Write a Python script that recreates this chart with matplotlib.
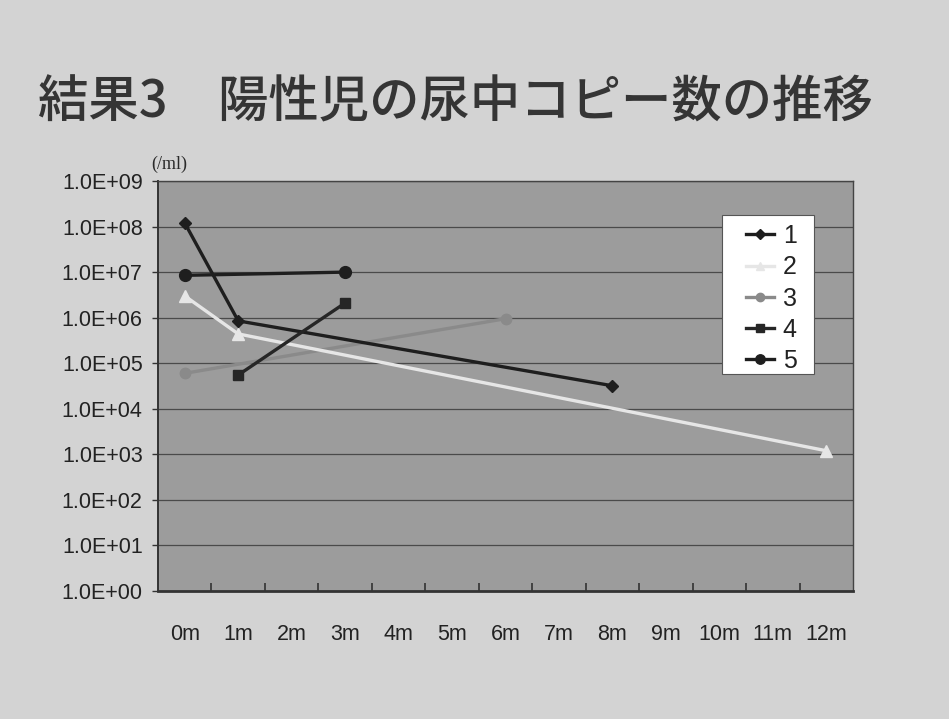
import matplotlib
matplotlib.use("Agg")
import matplotlib.pyplot as plt
from matplotlib.patches import Rectangle
from matplotlib.ticker import FixedLocator, FixedFormatter, NullLocator
import numpy as np

# Months after diagnosis (category axis)
months = ["0m", "1m", "2m", "3m", "4m", "5m", "6m", "7m", "8m", "9m", "10m", "11m", "12m"]

# Urinary copy numbers (/ml) per positive child: (month index, value)
s1_idx = [0, 1, 8]
s1_val = [1.2e8, 8.5e5, 3.2e4]
s2_idx = [0, 1, 12]
s2_val = [3.0e6, 4.4e5, 1.2e3]
s3_idx = [0, 6]
s3_val = [6.0e4, 9.5e5]
s4_idx = [1, 3]
s4_val = [5.5e4, 2.1e6]
s5_idx = [0, 3]
s5_val = [8.5e6, 1.0e7]

series_labels = ["1", "2", "3", "4", "5"]
ytick_values = [10.0 ** k for k in range(0, 10)]
ytick_labels = ["1.0E+%02d" % k for k in range(0, 10)]

title = "結果3　陽性児の尿中コピー数の推移"
unit = "(/ml)"

W, H = 949, 719
fig = plt.figure(figsize=(W / 100, H / 100), dpi=100)
fig.patch.set_facecolor("#d3d3d3")

x0, x1 = 158, 853
y0, y1 = 181, 591
ax = fig.add_axes([x0 / W, 1 - y1 / H, (x1 - x0) / W, (y1 - y0) / H])
ax.set_facecolor("#9c9c9c")
ax.set_yscale("log")
ax.set_ylim(1, 1e9)
ax.set_xlim(-0.5, len(months) - 0.5)


def ax_frac(px, py):
    """Pixel position on the figure -> axes fraction."""
    return (px - x0) / (x1 - x0), 1 - (py - y0) / (y1 - y0)


# horizontal gridlines at every decade
ax.yaxis.set_major_locator(FixedLocator(ytick_values))
ax.yaxis.set_major_formatter(FixedFormatter(ytick_labels))
ax.yaxis.set_minor_locator(NullLocator())
ax.grid(axis="y", color="#4a4a4a", linewidth=0.9)
ax.set_axisbelow(True)
ax.tick_params(axis="y", which="major", direction="out", length=4, width=1,
               color="#333333", labelsize=15.5, pad=7, labelcolor="#222222")
for lab in ax.get_yticklabels():
    lab.set_fontfamily("Liberation Sans")

# category labels centred, tick marks between categories
pos = np.arange(len(months))
ax.set_xticks(pos)
ax.set_xticklabels(months, fontsize=15.5, fontfamily="Liberation Sans", color="#222222")
ax.tick_params(axis="x", which="major", length=0, pad=24)
ax.set_xticks(pos[:-1] + 0.5, minor=True)
ax.tick_params(axis="x", which="minor", direction="in", length=6, width=1.2,
               color="#333333")

for side in ["top", "right"]:
    ax.spines[side].set_color("#444444")
    ax.spines[side].set_linewidth(1.0)
ax.spines["left"].set_color("#333333")
ax.spines["left"].set_linewidth(1.4)
ax.spines["bottom"].set_color("#333333")
ax.spines["bottom"].set_linewidth(2.0)

lw = 2.4
ax.plot(s1_idx, s1_val, color="#1e1e1e", lw=lw, marker="D", ms=6.5,
        label=series_labels[0], zorder=5)
ax.plot(s2_idx, s2_val, color="#e6e6e6", lw=lw, marker="^", ms=8,
        label=series_labels[1], zorder=4)
ax.plot(s3_idx, s3_val, color="#8a8a8a", lw=lw, marker="o", ms=7.5,
        label=series_labels[2], zorder=3)
ax.plot(s4_idx, s4_val, color="#262626", lw=lw, marker="s", ms=7.5,
        label=series_labels[3], zorder=5)
ax.plot(s5_idx, s5_val, color="#1e1e1e", lw=lw, marker="o", ms=8.5,
        label=series_labels[4], zorder=5)

# legend box (white panel with thin border) and its entries
bx0, by0 = ax_frac(722, 374)
bx1, by1 = ax_frac(814, 215)
ax.add_patch(Rectangle((bx0, by0), bx1 - bx0, by1 - by0, transform=ax.transAxes,
                       facecolor="white", edgecolor="#555555", linewidth=0.8, zorder=8))
leg = ax.legend(loc="upper left", bbox_to_anchor=ax_frac(746, 224),
                frameon=False, handlelength=1.12, handletextpad=0.35,
                labelspacing=0.29, borderpad=0, borderaxespad=0, markerscale=0.8,
                prop={"family": "Liberation Sans", "size": 18})
leg.set_zorder(9)
for t in leg.get_texts():
    t.set_color("#222222")

fig.text(38 / W, 1 - 103 / H, title, fontsize=36.3, color="#353535", fontweight="medium",
         fontfamily=["Noto Sans CJK JP", "DejaVu Sans"], va="center", ha="left")
fig.text(151 / W, 1 - 164 / H, unit, fontsize=13, color="#2a2a2a",
         fontfamily="Liberation Serif", va="center", ha="left")

fig.savefig("out.png", dpi=100, facecolor=fig.get_facecolor())
